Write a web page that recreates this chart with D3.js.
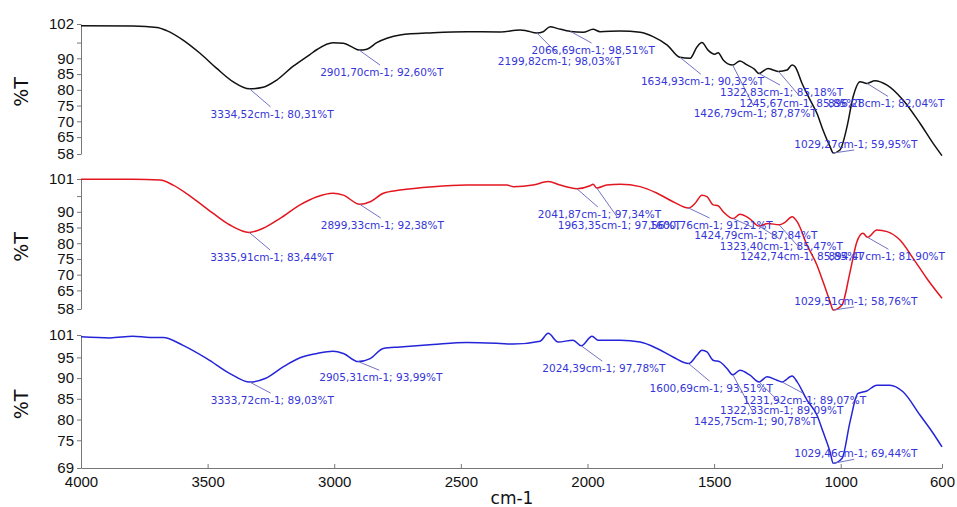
<!DOCTYPE html>
<html>
<head>
<meta charset="utf-8">
<script src="https://cdn.jsdelivr.net/npm/d3@7"></script>
<style>
body { margin: 0; background: #fff; }
svg { display: block; font-family: "DejaVu Sans", sans-serif; }
</style>
</head>
<body>
<div class="ftir"></div>
<script>
const width = 957;
const height = 507;

// spectra: [wavenumber cm-1, %T]
const spectrumA = [[4000,100.35],[3795,100.25],[3700,99.8],[3662,98.8],[3597,95.8],[3530,91.6],[3464,86.8],[3400,82.6],[3334.52,80.31],[3281,80.8],[3227,83.1],[3162,87.5],[3096,91.2],[3068,92.8],[3005,94.95],[2964,94.8],[2925,93.4],[2901.70,92.60],[2871,92.9],[2832,94.95],[2792,96.35],[2740,97.4],[2610,98.1],[2477,98.45],[2345,98.35],[2266,99.0],[2239,98.7],[2199.82,98.03],[2175,98.45],[2147,100.05],[2120,99.5],[2066.69,98.51],[2017,98.25],[1978,99.2],[1950,98.45],[1871,98.7],[1792,98.25],[1741,96.9],[1685,94.2],[1634.93,90.32],[1595,90.0],[1567,93.7],[1548,95.0],[1524,92.6],[1497,91.3],[1484,91.8],[1464,89.5],[1426.79,87.87],[1398,89.15],[1370,87.9],[1340,86.5],[1322.83,85.18],[1287,86.8],[1267,86.3],[1245.67,85.85],[1212,86.3],[1192,87.9],[1180,87.35],[1153,82.1],[1121,76.8],[1094,72.55],[1070,67.25],[1042,61.95],[1029.27,59.95],[1003,60.9],[975,68.3],[951,77.8],[924,82.6],[896.28,82.04],[865,82.9],[817,81.5],[754,76.8],[687,69.4],[635,63.0],[600,59.1]];
const spectrumB = [[4000,100.33],[3795,100.33],[3688,100.1],[3636,98.5],[3557,94.3],[3478,89.5],[3412,85.8],[3335.91,83.44],[3281,84.75],[3214,87.9],[3135,92.2],[3068,94.8],[3005,95.9],[2964,95.3],[2899.33,92.38],[2858,93.2],[2806,95.9],[2740,96.9],[2610,98.0],[2477,98.5],[2318,98.5],[2293,98.0],[2215,98.5],[2155,99.6],[2108,98.5],[2041.87,97.34],[1990,98.3],[1978,98.75],[1963.35,97.56],[1924,98.5],[1871,98.75],[1792,98.0],[1725,95.9],[1662,93.2],[1600.76,91.21],[1575,92.7],[1548,95.3],[1528,94.8],[1504,92.2],[1484,91.9],[1464,90.0],[1424.79,87.84],[1398,89.2],[1358,87.7],[1323.40,85.47],[1287,86.3],[1242.74,85.85],[1220,86.65],[1192,88.4],[1172,86.85],[1133,79.4],[1094,73.1],[1070,67.8],[1042,61.4],[1029.51,58.76],[995,60.35],[963,70.9],[936,80.5],[912,83.2],[894.47,81.90],[857,84.2],[817,83.7],[766,81.0],[714,75.2],[660,68.8],[600,62.5]];
const spectrumC = [[4000,99.95],[3885,99.7],[3795,100.1],[3728,99.8],[3676,99.8],[3597,97.9],[3503,94.7],[3412,91.1],[3333.72,89.03],[3273,89.9],[3202,92.7],[3135,94.9],[3068,95.95],[3005,96.5],[2964,95.95],[2905.31,93.99],[2858,94.7],[2806,97.15],[2740,97.5],[2610,98.1],[2477,98.6],[2345,98.35],[2294,98.2],[2187,98.9],[2155,100.8],[2116,98.7],[2057,99.15],[2024.39,97.78],[1982,100.1],[1958,99.15],[1871,99.15],[1792,98.7],[1725,97.15],[1662,95.1],[1600.69,93.51],[1568,95.5],[1548,96.7],[1528,96.3],[1504,94.3],[1477,93.9],[1449,92.3],[1425.75,90.78],[1398,91.9],[1358,90.7],[1322.33,89.09],[1291,90.3],[1252,89.5],[1231.92,89.07],[1192,90.5],[1172,89.1],[1133,84.7],[1094,81.1],[1070,77.1],[1042,72.2],[1029.46,69.44],[995,70.6],[963,79.5],[932,86.3],[897,86.9],[857,88.3],[806,88.3],[754,86.7],[687,81.1],[635,76.7],[600,73.4]];

// labelled peaks
const peaksA = [[3334.52,80.31],[2901.70,92.60],[2199.82,98.03],[2066.69,98.51],[1634.93,90.32],[1426.79,87.87],[1322.83,85.18],[1245.67,85.85],[1029.27,59.95],[896.28,82.04]];
const peaksB = [[3335.91,83.44],[2899.33,92.38],[2041.87,97.34],[1963.35,97.56],[1600.76,91.21],[1424.79,87.84],[1323.40,85.47],[1242.74,85.85],[1029.51,58.76],[894.47,81.90]];
const peaksC = [[3333.72,89.03],[2905.31,93.99],[2024.39,97.78],[1600.69,93.51],[1425.75,90.78],[1322.33,89.09],[1231.92,89.07],[1029.46,69.44]];

// axis values
const xTicks = [4000, 3500, 3000, 2500, 2000, 1500, 1000, 600];
const yDomains = [[59.63, 100.89], [59.08, 100.43], [68.31, 100.40]];
const yEndLabels = [["58", "102"], ["58", "101"], ["69", "101"]];
const yTicks = [[65, 70, 75, 80, 85, 90, 95], [65, 70, 75, 80, 85, 90, 95], [75, 80, 85, 90, 95]];
const yHidden = [[95], [95], []];

// layout (label offsets below/above the peak, px)
const labelDy = [
    [25, 22, 28, 18.5, 24, 48, 18.5, 31.6, -9, 20],
    [24.6, 20.7, 25.3, 36.8, 17, 16.4, 20, 31, -9, 19],
    [18, 15.6, 22.3, 24.6, 46, 28, 18.2, -10]
];
const panels = [
    {top: 24, bottom: 154, color: "#111111", data: spectrumA, peaks: peaksA},
    {top: 179, bottom: 309, color: "#e3161f", data: spectrumB, peaks: peaksB},
    {top: 335, bottom: 468, color: "#2424d8", data: spectrumC, peaks: peaksC}
];
const left = 81, right = 942;

const svg = d3.select(".ftir")
    .append("svg")
        .attr("width", width)
        .attr("height", height);

const x = d3.scaleLinear().domain([4000, 600]).range([left, right]);

const fmt = v => d3.format(".2f")(v).replace(".", ",");

panels.forEach((p, i) => {
    const y = d3.scaleLinear().domain(yDomains[i]).range([p.bottom, p.top]);
    const ticks = [yDomains[i][0], ...yTicks[i], yDomains[i][1]];

    const ax = svg.append("g")
        .attr("transform", `translate(${left},0)`)
        .call(d3.axisLeft(y)
            .tickValues(ticks)
            .tickSizeInner(4)
            .tickSizeOuter(0)
            .tickPadding(3)
            .tickFormat((d, k) => {
                if (k === 0) return yEndLabels[i][0];
                if (k === ticks.length - 1) return yEndLabels[i][1];
                return yHidden[i].includes(d) ? "" : d;
            }));
    ax.select(".domain").attr("stroke", "#777");
    ax.selectAll(".tick line").attr("stroke", "#777");
    ax.selectAll("text").attr("font-size", 15).attr("fill", "#111");

    svg.append("text")
        .attr("transform", `translate(28,${(p.top + p.bottom) / 2 + 3}) rotate(-90)`)
        .attr("text-anchor", "middle")
        .attr("font-size", 19)
        .attr("fill", "#111")
        .text("%T");

    const line = d3.line()
        .x(d => x(d[0]))
        .y(d => y(d[1]))
        .curve(d3.curveMonotoneX);

    svg.append("path")
        .datum(p.data)
        .attr("fill", "none")
        .attr("stroke", p.color)
        .attr("stroke-width", 1.5)
        .attr("stroke-linejoin", "round")
        .attr("d", line);

    const ann = svg.append("g");
    p.peaks.forEach((pk, k) => {
        const px = x(pk[0]), py = y(pk[1]);
        const dy = labelDy[i][k];
        const cy = py + dy;
        ann.append("line")
            .attr("x1", px).attr("y1", py)
            .attr("x2", px + 21).attr("y2", dy > 0 ? cy - 7 : cy + 6)
            .attr("stroke", "#7272c4")
            .attr("stroke-width", 1);
        ann.append("text")
            .attr("x", px - 39)
            .attr("y", cy + 4)
            .attr("font-size", 10.5)
            .attr("fill", "#3535d8")
            .text(`${fmt(pk[0])}cm-1; ${fmt(pk[1])}%T`);
    });
});

const xAxis = svg.append("g")
    .attr("transform", `translate(0,${panels[2].bottom})`)
    .call(d3.axisBottom(x)
        .tickValues(xTicks)
        .tickSizeInner(-4)
        .tickSizeOuter(0)
        .tickPadding(8)
        .tickFormat(d3.format("d")));
xAxis.select(".domain").attr("stroke", "#777");
xAxis.selectAll(".tick line").attr("stroke", "#777");
xAxis.selectAll("text").attr("font-size", 15).attr("fill", "#111");

svg.append("text")
    .attr("x", 512)
    .attr("y", 504)
    .attr("text-anchor", "middle")
    .attr("font-size", 17)
    .attr("fill", "#111")
    .text("cm-1");
</script>
</body>
</html>
